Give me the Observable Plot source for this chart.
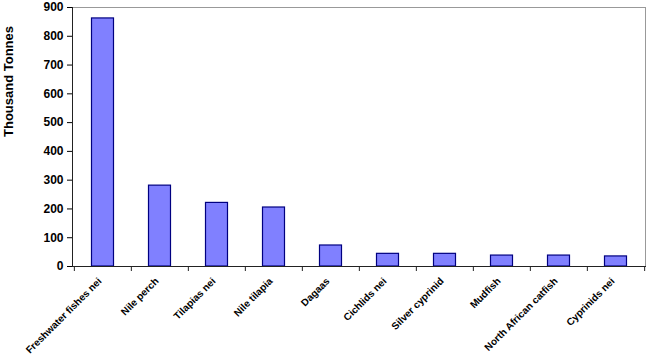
<!DOCTYPE html>
<html><head><meta charset="utf-8">
<script src="https://cdn.jsdelivr.net/npm/d3@7"></script>
<script src="https://cdn.jsdelivr.net/npm/@observablehq/plot@0.6"></script>
<style>body{margin:0;background:#fff} svg{display:block}</style>
</head><body><div id="chart"></div>
<script>
const species = ["Freshwater fishes nei", "Nile perch", "Tilapias nei", "Nile tilapia", "Dagaas", "Cichlids nei", "Silver cyprinid", "Mudfish", "North African catfish", "Cyprinids nei"];
const tonnes = [862, 281, 221, 205, 73, 44, 44, 38, 38, 35];
const yTicks = [0, 100, 200, 300, 400, 500, 600, 700, 800, 900];
const yLabel = "Thousand Tonnes";

const data = species.map((s, i) => ({species: s, value: tonnes[i]}));
const W = 650, H = 355, mL = 72, mR = 5;
const bw = (W - mL - mR) / species.length;

const chart = Plot.plot({
  width: W, height: H,
  marginLeft: mL, marginRight: mR, marginTop: 7, marginBottom: 89,
  style: {fontFamily: "'Liberation Sans', Arial, sans-serif", background: "#fff", color: "#000"},
  x: {domain: species, padding: 0},
  y: {domain: [0, 900]},
  marks: [
    Plot.frame({stroke: "#999"}),
    Plot.barY(data, {x: "species", y: "value", fill: "#8080ff", stroke: "#000080", strokeWidth: 1.2, insetLeft: 17.5, insetRight: 17.5}),
    Plot.ruleX(species, {x: d => d, dx: -bw / 2, y1: 0, y2: 0, insetBottom: -5, stroke: "#222"}),
    Plot.ruleX(species.slice(-1), {x: d => d, dx: bw / 2, y1: 0, y2: 0, insetBottom: -5, stroke: "#222"}),
    Plot.frame({anchor: "left", stroke: "#222"}),
    Plot.frame({anchor: "bottom", stroke: "#222"}),
    Plot.axisY({ticks: yTicks, tickSize: 5, tickPadding: 4, fontSize: 12, fontWeight: "bold", label: null}),
    Plot.text([yLabel], {frameAnchor: "left", text: d => d, rotate: -90, dx: -64, fontSize: 13, fontWeight: "bold"}),
    Plot.axisX({tickSize: 0, tickRotate: -45, tickPadding: 13, dx: -3, fontSize: 10, fontWeight: "bold", label: null})
  ]
});
document.getElementById("chart").appendChild(chart);
</script>
</body></html>
